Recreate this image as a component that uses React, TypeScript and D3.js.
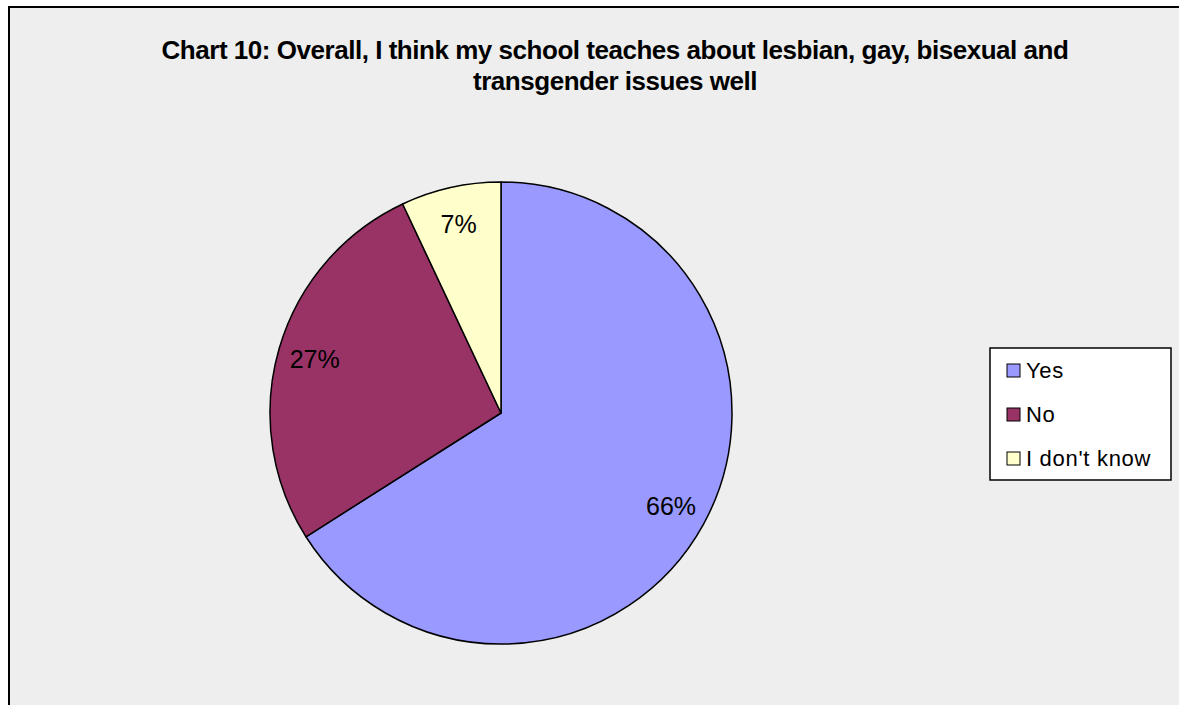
import * as d3 from 'd3';
import { useEffect, useRef } from 'react';

const categories = ['Yes', 'No', "I don't know"];
const percents = [66, 27, 7];
const colours = ['#9999FF', '#993366', '#FFFFCC'];
const titleLines = [
  'Chart 10: Overall, I think my school teaches about lesbian, gay, bisexual and',
  'transgender issues well',
];

export default function App() {
  const ref = useRef<SVGSVGElement>(null);

  const width = 1179;
  const height = 705;

  useEffect(() => {
    const svg = d3.select(ref.current);
    svg.selectAll('*').remove();

    // chart area frame, runs off the right and bottom edges
    svg
      .append('rect')
      .attr('x', 9)
      .attr('y', 7)
      .attr('width', width + 20)
      .attr('height', height + 20)
      .attr('fill', '#eeeeee')
      .attr('stroke', '#000')
      .attr('stroke-width', 2);

    svg
      .append('g')
      .selectAll('text')
      .data(titleLines)
      .join('text')
      .attr('x', 615)
      .attr('y', (_, i) => 59 + i * 31)
      .attr('text-anchor', 'middle')
      .attr('font-family', 'Liberation Sans, Arial, sans-serif')
      .attr('font-weight', 'bold')
      .attr('font-size', 26)
      .attr('letter-spacing', -0.47)
      .text((d) => d);

    const cx = 501;
    const cy = 413;
    const radius = 231;

    const pie = d3
      .pie<number>()
      .sort(null)
      .value((d) => d);
    const arcs = pie(percents);
    const arc = d3.arc<d3.PieArcDatum<number>>().innerRadius(0).outerRadius(radius);
    const labelArc = d3
      .arc<d3.PieArcDatum<number>>()
      .innerRadius(radius * 0.84)
      .outerRadius(radius * 0.84);

    const g = svg.append('g').attr('transform', `translate(${cx}, ${cy})`);

    g.selectAll('path')
      .data(arcs)
      .join('path')
      .attr('d', arc)
      .attr('fill', (_, i) => colours[i])
      .attr('stroke', '#000')
      .attr('stroke-width', 1.5)
      .attr('stroke-linejoin', 'round');

    g.selectAll('text')
      .data(arcs)
      .join('text')
      .attr('transform', (d) => `translate(${labelArc.centroid(d)})`)
      .attr('text-anchor', 'middle')
      .attr('dy', '0.36em')
      .attr('font-family', 'Liberation Sans, Arial, sans-serif')
      .attr('font-size', 25)
      .text((d) => `${d.data}%`);

    // legend
    const legend = svg.append('g').attr('transform', 'translate(990, 348)');
    legend
      .append('rect')
      .attr('width', 181)
      .attr('height', 132)
      .attr('fill', '#fff')
      .attr('stroke', '#000')
      .attr('stroke-width', 1.5);

    const item = legend
      .selectAll('g.item')
      .data(categories)
      .join('g')
      .attr('class', 'item')
      .attr('transform', (_, i) => `translate(17, ${22 + i * 44})`);

    item
      .append('rect')
      .attr('x', 0)
      .attr('y', -6)
      .attr('width', 13)
      .attr('height', 13)
      .attr('fill', (_, i) => colours[i])
      .attr('stroke', '#000')
      .attr('stroke-width', 1);

    item
      .append('text')
      .attr('x', 19)
      .attr('dy', '0.35em')
      .attr('font-family', 'Liberation Sans, Arial, sans-serif')
      .attr('font-size', 22)
      .attr('letter-spacing', 0.7)
      .text((d) => d);
  }, []);

  return (
    <svg
      ref={ref}
      width={width}
      height={height}
      style={{ position: 'absolute', left: 0, top: 0, background: '#fff' }}
    ></svg>
  );
}
